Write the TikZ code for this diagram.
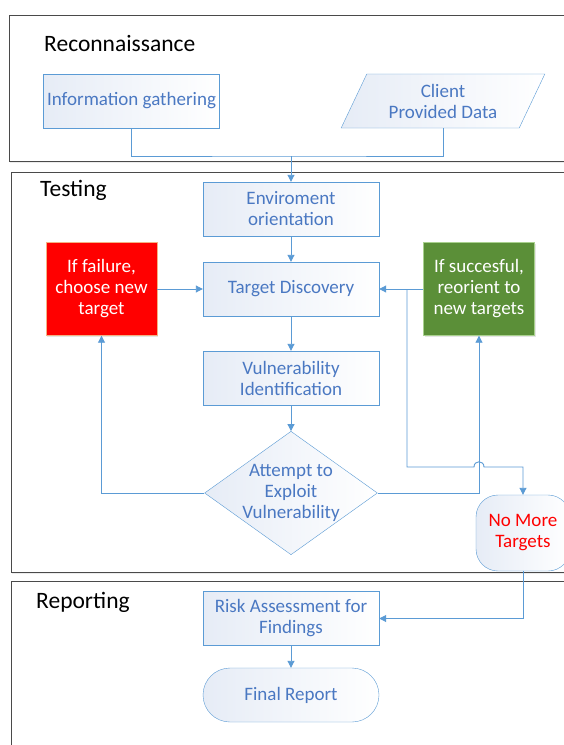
\documentclass[tikz,border=0pt]{standalone}
\usepackage{fontspec}
\setmainfont{Carlito}
\usetikzlibrary{positioning,shapes.geometric,arrows.meta,shadows}

\definecolor{flowline}{HTML}{5B9BD5}
\definecolor{flowtext}{HTML}{4A78C2}
\definecolor{nodefill}{HTML}{E6ECF6}
\definecolor{failred}{HTML}{FF0000}
\definecolor{failedge}{HTML}{F4B183}
\definecolor{okgreen}{HTML}{5B8F38}
\definecolor{okedge}{HTML}{A9D18E}
\definecolor{framegray}{HTML}{4A4A4A}

\tikzset{
  phase/.style={draw=framegray, line width=1pt, fill=white,
    drop shadow={shadow xshift=1pt, shadow yshift=-2pt, opacity=.15}},
  phasetitle/.style={anchor=west, inner sep=0pt, font=\fontsize{23.5}{26}\selectfont},
  flowfont/.style={font=\fontsize{19}{21}\selectfont},
  proc/.style={flowfont, draw=flowline, rectangle, left color=nodefill, right color=white,
    text=flowtext, align=center, inner sep=0pt, minimum height=54pt, minimum width=176pt},
  io/.style={proc, trapezium, trapezium left angle=62, trapezium right angle=118,
    trapezium stretches=true, minimum width=204pt},
  term/.style={proc, rounded corners=27pt},
  decision/.style={proc, diamond, aspect=1.4, inner sep=-1pt, minimum width=0pt, minimum height=0pt},
  loopbox/.style={flowfont, rectangle, text=white, align=center, inner sep=0pt,
    minimum width=111pt, minimum height=93pt,
    drop shadow={shadow xshift=1pt, shadow yshift=-1.5pt, opacity=.2}},
  flow/.style={draw=flowline, line width=0.9pt},
  arrow/.style={flow, -{Triangle[length=7pt,width=7pt]}}
}

\begin{document}
\begin{tikzpicture}[x=1pt,y=-1pt,node distance=80pt,on grid]
  \useasboundingbox (0,0) rectangle (563,745);
  % phases
  \draw[phase] (9,15) rectangle (600,161);
  \draw[phase] (11,172) rectangle (600,572);
  \draw[phase] (11,581) rectangle (600,800);
  \node[phasetitle] (recontitle)  at (44,43)  {Reconnaissance};
  \node[phasetitle] (testtitle)   at (40,190) {Testing};
  \node[phasetitle] (reporttitle) at (36,602) {Reporting};

  % reconnaissance
  \node[proc] (info)   at (131.5,101) {Information gathering};
  \node[io]   (client) at (443,101)   {Client\\Provided Data};
  \coordinate (merge) at (291,156);

  % testing
  \node[proc] (env)  at (291,209)          {Enviroment\\orientation};
  \node[proc] (disc) [below=80pt of env]   {Target Discovery};
  \node[proc] (vuln) [below=89pt of disc]  {Vulnerability\\Identification};
  \node[decision] (exploit) [below=115pt of vuln] {Attempt to\\Exploit\\Vulnerability};
  \node[loopbox, fill=failred, draw=failedge] (fail) at (101.5,289) {If failure,\\choose new\\target};
  \node[loopbox, fill=okgreen, draw=okedge]   (win)  at (479,289)   {If succesful,\\reorient to\\new targets};
  \node[proc, rounded corners=22pt, minimum width=94pt, minimum height=76pt, text=failred]
    (nmt) at (523,533) {No More\\Targets};
  \coordinate (split) at (407,289);
  \coordinate (bend)  at (407,467);

  % reporting
  \node[proc] (risk)  at (291,618.5)          {Risk Assessment for\\Findings};
  \node[term] (final) [below=76.5pt of risk]  {Final Report};

  \draw[flow] (info.south) |- (merge) -| (client.center |- client.south);
  \draw[arrow] (merge) -- (env.north);
  \draw[arrow] (env) -- (disc);
  \draw[arrow] (disc) -- (vuln);
  \draw[arrow] (vuln) -- (exploit);
  \draw[arrow] (fail) -- (disc);
  \draw[arrow] (win) -- (disc);
  \draw[arrow] (exploit.west) -| (fail.south);
  \draw[arrow] (exploit.east) -| (win.south);
  \draw[arrow] (split) -- (bend) -- (474,467)
    .. controls (474,460) and (484,460) .. (484,467) -| (nmt.north);
  \draw[arrow] (nmt.south) |- (risk.east);
  \draw[arrow] (risk) -- (final);
\end{tikzpicture}
\end{document}
